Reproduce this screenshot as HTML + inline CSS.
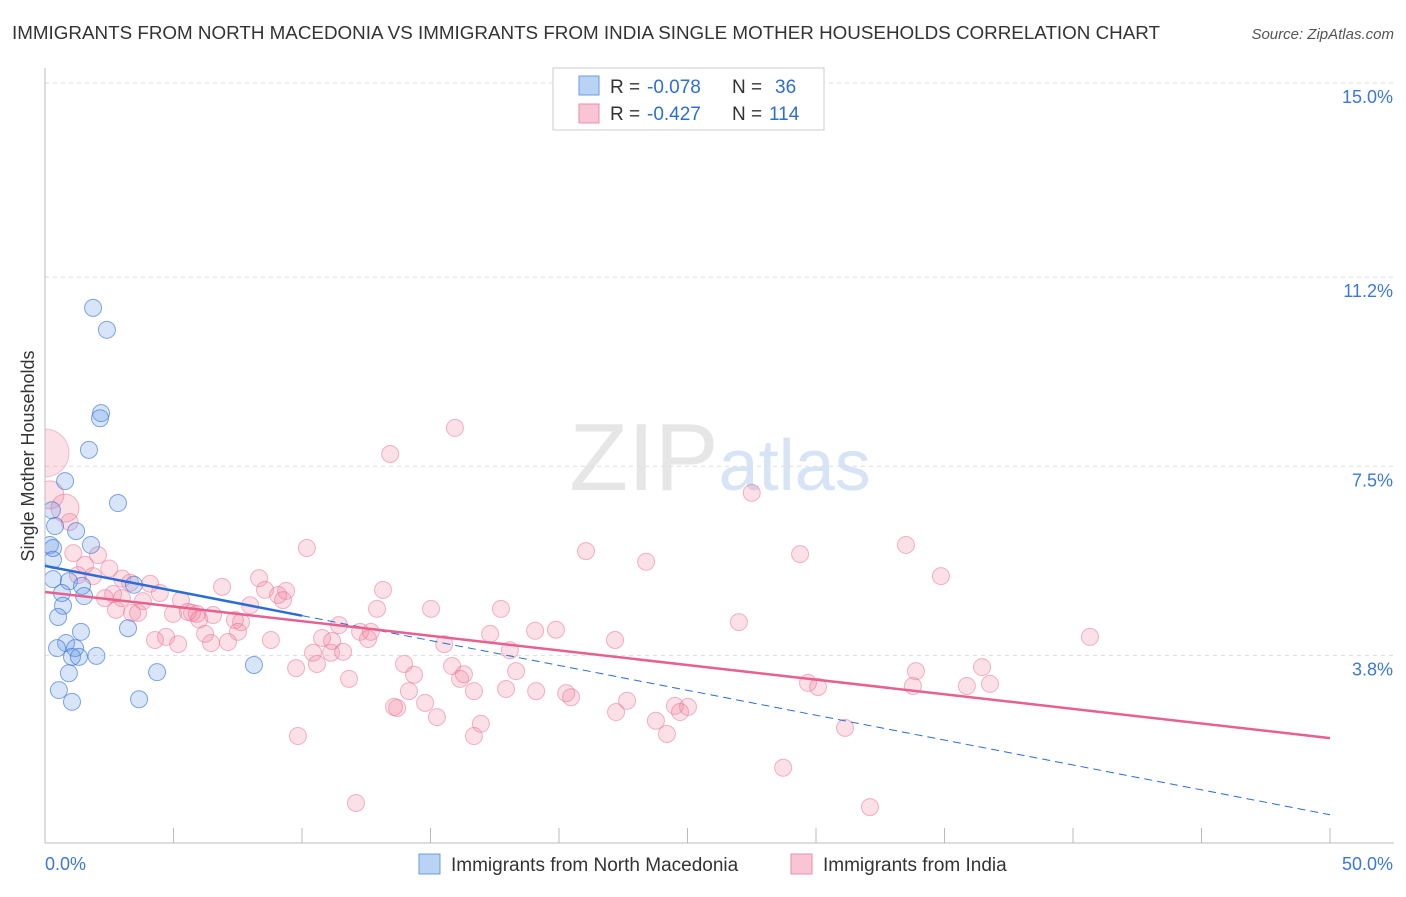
<!DOCTYPE html>
<html><head><meta charset="utf-8"><style>
body{margin:0;background:#fff;font-family:"Liberation Sans",sans-serif;}
svg text{font-family:"Liberation Sans",sans-serif;}
</style></head><body>
<svg id="chart" width="1406" height="892" xmlns="http://www.w3.org/2000/svg">
<text x="12" y="39" font-size="18" fill="#333" textLength="1148" lengthAdjust="spacingAndGlyphs">IMMIGRANTS FROM NORTH MACEDONIA VS IMMIGRANTS FROM INDIA SINGLE MOTHER HOUSEHOLDS CORRELATION CHART</text>
<text x="1394" y="39" font-size="15" fill="#555" text-anchor="end" font-style="italic">Source: ZipAtlas.com</text>
<text x="720" y="490" font-size="96" fill="#e6e6e6" text-anchor="middle" font-family="Liberation Serif">ZIP<tspan fill="#d6e4f5" font-family="Liberation Sans" font-size="72">atlas</tspan></text>
<g id="grid"></g>
<g id="marks"></g>
<rect x="0" y="60" width="44.5" height="790" fill="#fff"/>
<text transform="translate(34,456) rotate(-90)" font-size="18" fill="#333" text-anchor="middle">Single Mother Households</text>
<g id="axes"></g>
<g id="lines"></g>
<g>
<rect x="553" y="68" width="271" height="62" fill="#fff" stroke="#ccc"/>
<rect x="579" y="76" width="20" height="19" fill="#b9d3f5" stroke="#6a9ee0"/>
<rect x="579" y="104" width="20" height="19" fill="#f9c4d4" stroke="#ea8fae"/>
<text x="610" y="93" font-size="19" fill="#333">R =</text>
<text x="647" y="93" font-size="19" fill="#2d6fd0">-0.078</text>
<text x="732" y="93" font-size="19" fill="#333">N =</text>
<text x="775" y="93" font-size="19" fill="#2d6fd0">36</text>
<text x="610" y="120" font-size="19" fill="#333">R =</text>
<text x="647" y="120" font-size="19" fill="#2d6fd0">-0.427</text>
<text x="732" y="120" font-size="19" fill="#333">N =</text>
<text x="769" y="120" font-size="19" fill="#2d6fd0">114</text>
</g>
<g>
<rect x="419" y="854" width="21" height="20" fill="#b9d3f5" stroke="#6a9ee0"/>
<text x="451" y="871" font-size="19" fill="#333">Immigrants from North Macedonia</text>
<rect x="791" y="854" width="21" height="20" fill="#f9c4d4" stroke="#ea8fae"/>
<text x="823" y="871" font-size="19" fill="#333">Immigrants from India</text>
</g>
</svg>
<script>
const yTicks=[15.0,11.2,7.5,3.8];
const yTickLabels=["15.0%","11.2%","7.5%","3.8%"];
const blueX=[1.87,2.41,2.18,2.14,1.71,2.84,0.78,0.27,0.39,1.21,0.19,1.79,0.31,0.31,0.93,1.44,3.46,0.66,1.52,0.70,0.51,1.40,3.23,0.82,0.47,1.17,1.05,1.32,2.0,4.36,8.13,0.93,0.54,1.05,3.66,0.31];
const blueY=[10.6,10.17,8.54,8.44,7.82,6.78,7.21,6.64,6.33,6.23,5.96,5.96,5.67,5.29,5.25,5.16,5.18,5.02,4.96,4.77,4.55,4.26,4.33,4.04,3.94,3.94,3.77,3.77,3.79,3.47,3.61,3.45,3.12,2.89,2.94,5.9];
const pinkX=[0.96,2.06,1.56,1.87,1.28,15.95,13.43,27.5,10.19,21.05,23.39,29.38,33.5,34.86,40.66,27.0,22.18,19.88,19.07,17.74,17.32,15.02,12.92,13.15,8.33,6.89,4.09,3.31,2.65,2.33,2.99,3.81,4.47,5.29,7.98,8.56,9.38,9.07,9.26,5.72,5.91,6.54,7.63,7.39,3.39,3.62,2.76,4.98,5.56,11.44,12.26,12.57,12.68,10.78,11.17,8.79,7.51,6.23,6.46,7.12,4.28,4.71,5.18,10.43,11.13,11.6,9.77,10.58,13.97,14.36,15.53,15.84,16.3,16.15,18.09,18.33,16.69,17.94,19.11,20.28,20.47,22.65,22.22,14.16,14.79,13.7,13.58,15.25,16.96,16.69,9.84,11.83,23.77,24.2,24.51,25.02,24.71,28.72,31.13,32.1,12.1,29.69,30.08,33.77,33.89,35.87,36.46,36.77,1.1,2.5,3.0,6.0,0.19,0.78];
const pinkY=[6.41,5.76,5.57,5.35,5.37,8.25,7.74,6.98,5.9,5.84,5.63,5.78,5.96,5.35,4.16,4.45,4.1,4.3,4.28,4.71,4.22,4.71,4.71,5.08,5.31,5.14,5.2,5.22,5.0,4.92,4.92,4.86,5.02,4.88,4.78,5.08,5.06,4.98,4.88,4.63,4.61,4.59,4.45,4.49,4.63,4.63,4.69,4.61,4.65,4.39,4.26,4.12,4.26,4.14,4.08,4.1,4.26,4.22,4.04,4.06,4.1,4.16,4.02,3.85,3.85,3.87,3.55,3.63,3.63,3.42,4.02,3.59,3.43,3.34,3.9,3.49,3.1,3.14,3.1,3.06,2.98,2.91,2.69,3.1,2.87,2.77,2.79,2.59,2.46,2.22,2.22,3.34,2.52,2.26,2.81,2.79,2.69,1.6,2.38,0.83,0.91,3.26,3.18,3.2,3.49,3.2,3.57,3.24,5.8,5.5,5.3,4.5,6.94,6.68];
const bigPink={x:0,y:7.76};
const blueTrend=[5.55,0.68];
const pinkTrend=[5.04,2.18];
const xs=v=>45+v*25.7, ys=v=>83+(15-v)*51.1;
const NS="http://www.w3.org/2000/svg";
function mk(p,t,a){const e=document.createElementNS(NS,t);for(const k in a)e.setAttribute(k,a[k]);p.appendChild(e);return e;}
const grid=document.getElementById('grid'),axes=document.getElementById('axes'),marks=document.getElementById('marks'),lines=document.getElementById('lines');
yTicks.forEach((t,i)=>{
 const g=mk(grid,'line',{x1:45,x2:1394,y1:ys(t),y2:ys(t),stroke:'#ddd','stroke-dasharray':'4,4'});
 
 
 const l=mk(axes,'text',{x:1393,y:ys(t)+20,'font-size':18,fill:'#3b78d8','text-anchor':'end'});l.textContent=yTickLabels[i];
 
 
});
const ax=mk(axes,'line',{x1:45,x2:45,y1:68,y2:843,stroke:'#bbb'});


const bx=mk(axes,'line',{x1:45,x2:1394,y1:843,y2:843,stroke:'#bbb'});


for(let i=0;i<=10;i++){const t=mk(axes,'line',{x1:xs(i*5),x2:xs(i*5),y1:828,y2:843,stroke:'#bbb'});
 
 }
const x0=mk(axes,'text',{x:45,y:870,'font-size':18,fill:'#3b78d8'});x0.textContent='0.0%';


const x1=mk(axes,'text',{x:1393,y:870,'font-size':18,fill:'#3b78d8','text-anchor':'end'});x1.textContent='50.0%';


const bp=mk(marks,'circle',{cx:xs(bigPink.x),cy:ys(bigPink.y),r:24,fill:'rgba(240,130,160,0.25)',stroke:'rgba(232,110,150,0.4)'});


pinkX.forEach((x,i)=>{const c=mk(marks,'circle',{cx:xs(x),cy:ys(pinkY[i]),r:i>=112?14:8.5,fill:'rgba(240,130,160,0.25)',stroke:'rgba(232,110,150,0.5)'});
 
 });
blueX.forEach((x,i)=>{const c=mk(marks,'circle',{cx:xs(x),cy:ys(blueY[i]),r:8.5,fill:'rgba(100,150,230,0.25)',stroke:'rgba(50,110,210,0.6)'});
 
 });
const bl=v=>blueTrend[0]+(blueTrend[1]-blueTrend[0])*v/50;
const t1=mk(lines,'line',{x1:xs(0),y1:ys(bl(0)),x2:xs(10),y2:ys(bl(10)),stroke:'#2a6dd9','stroke-width':2.5});


const t2=mk(lines,'line',{x1:xs(10),y1:ys(bl(10)),x2:xs(50),y2:ys(bl(50)),stroke:'#2a6dd9','stroke-width':1,'stroke-dasharray':'8,5'});


const t3=mk(lines,'line',{x1:xs(0),y1:ys(pinkTrend[0]),x2:xs(50),y2:ys(pinkTrend[1]),stroke:'#e8608f','stroke-width':2.5});


</script>
</body></html>
